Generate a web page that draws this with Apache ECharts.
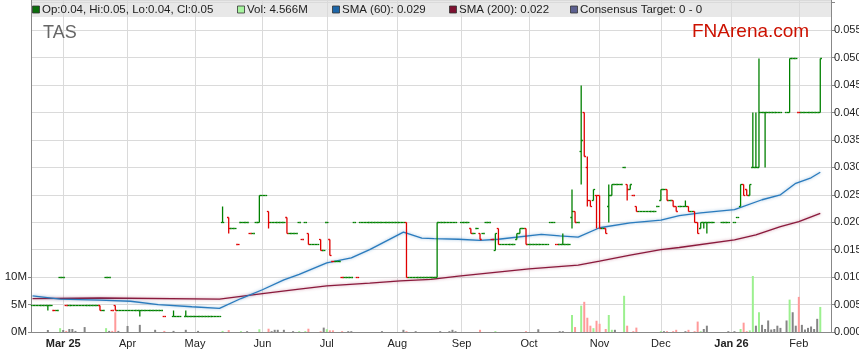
<!DOCTYPE html>
<html><head><meta charset="utf-8">
<script src="https://cdn.jsdelivr.net/npm/echarts@6/dist/echarts.min.js"></script>
<style>html,body{margin:0;padding:0;background:#fff}#c{width:859px;height:363px}</style>
</head><body><div id="c"></div>
<script>
// ---- categories (weekdays) and month tick labels ----
const firstDay = '2025-02-17', lastDay = '2026-02-16';
const monthTicks  = ['2025-03-03','2025-04-01','2025-05-01','2025-06-02','2025-07-01','2025-08-01','2025-09-01','2025-10-01','2025-11-03','2025-12-01','2026-01-01','2026-02-02'];
const monthLabels = ['Mar 25','Apr','May','Jun','Jul','Aug','Sep','Oct','Nov','Dec','Jan 26','Feb'];
const boldLabels  = ['Mar 25','Jan 26'];
const volumeTicks = [0, 5, 10];

// ---- price rows: [date, close] for flat days or [date, open, high, low, close] ----
const priceRows = [
['2025-02-17',.005],['2025-02-18',.005],['2025-02-19',.005],['2025-02-20',.005],['2025-02-21',.005],
['2025-02-24',.005,.005,.004,.005],['2025-02-25',.005],['2025-02-26',.004],['2025-02-27',.004],['2025-02-28',.010],
['2025-03-03',.010],['2025-03-04',.005],['2025-03-05',.005],['2025-03-06',.005],['2025-03-07',.005],
['2025-03-10',.005],['2025-03-11',.005],['2025-03-12',.005],['2025-03-13',.005],['2025-03-14',.005],
['2025-03-17',.005],['2025-03-18',.005],['2025-03-19',.005,.005,.004,.004],['2025-03-20',.004],['2025-03-21',.010],
['2025-03-24',.010],['2025-03-25',.004],['2025-03-26',.005,.005,.004,.004],['2025-03-27',.004],['2025-03-28',.004],
['2025-03-31',.004],['2025-04-01',.004],['2025-04-02',.004],['2025-04-03',.004],['2025-04-04',.004],
['2025-04-07',.004,.004,.003,.004],['2025-04-08',.004],['2025-04-09',.004],['2025-04-10',.004],['2025-04-11',.004],
['2025-04-14',.004],['2025-04-15',.004],['2025-04-16',.004],['2025-04-17',.003],
['2025-04-22',.003,.004,.003,.003],['2025-04-23',.003],['2025-04-24',.003],
['2025-04-28',.003,.004,.003,.003],['2025-04-29',.003],['2025-04-30',.003],['2025-05-01',.003],['2025-05-02',.003],
['2025-05-05',.003],['2025-05-06',.003],['2025-05-07',.003],['2025-05-08',.003],['2025-05-09',.003],
['2025-05-12',.003],['2025-05-13',.003],['2025-05-14',.020,.023,.020,.020],['2025-05-16',.021,.021,.018,.019],
['2025-05-19',.019],['2025-05-20',.019],['2025-05-21',.016],['2025-05-22',.020],['2025-05-23',.020],
['2025-05-26',.020],['2025-05-27',.018],['2025-05-28',.018],['2025-05-29',.020],['2025-05-30',.020,.025,.020,.025],
['2025-06-02',.025],['2025-06-03',.025],['2025-06-04',.022,.022,.019,.020],['2025-06-05',.020],['2025-06-06',.020],
['2025-06-09',.020],['2025-06-10',.020],['2025-06-11',.020],['2025-06-12',.021,.021,.018,.018],['2025-06-13',.018],
['2025-06-16',.018],['2025-06-17',.018],['2025-06-18',.020],['2025-06-19',.017],['2025-06-20',.020],
['2025-06-23',.018,.018,.016,.016],['2025-06-24',.016],['2025-06-25',.016],['2025-06-26',.016],['2025-06-27',.017,.017,.015,.015],
['2025-06-30',.015],['2025-07-01',.020],['2025-07-02',.017,.017,.014,.014],['2025-07-03',.013],['2025-07-04',.013],
['2025-07-07',.013],['2025-07-08',.010],['2025-07-09',.010],['2025-07-10',.010],['2025-07-11',.010],
['2025-07-14',.020],['2025-07-15',.010],['2025-07-16',.020],['2025-07-17',.020],['2025-07-18',.020],
['2025-07-21',.020],['2025-07-22',.020],['2025-07-23',.020],['2025-07-24',.020],['2025-07-25',.020],
['2025-07-28',.020],['2025-07-29',.020],['2025-07-30',.020],['2025-07-31',.020],['2025-08-01',.020],
['2025-08-04',.020],['2025-08-05',.020],['2025-08-06',.020,.020,.010,.010],['2025-08-07',.010],['2025-08-08',.010],
['2025-08-11',.010],['2025-08-12',.010],['2025-08-13',.010],['2025-08-14',.010],['2025-08-15',.010],
['2025-08-18',.010],['2025-08-19',.010],['2025-08-20',.010,.020,.010,.020],['2025-08-21',.020],['2025-08-22',.020],
['2025-08-25',.020],['2025-08-26',.020],['2025-08-27',.020],['2025-08-28',.020],
['2025-09-01',.020],['2025-09-02',.020],['2025-09-03',.020],['2025-09-04',.019,.019,.018,.018],['2025-09-05',.018],
['2025-09-08',.019],['2025-09-09',.018,.018,.017,.017],['2025-09-10',.018],['2025-09-11',.020],['2025-09-12',.020],
['2025-09-15',.017],['2025-09-16',.015,.018,.015,.018],['2025-09-17',.019,.019,.016,.016],['2025-09-18',.016],['2025-09-19',.016],
['2025-09-22',.016],['2025-09-23',.016],['2025-09-24',.016],['2025-09-25',.017,.018,.017,.018],['2025-09-26',.018,.019,.018,.019],
['2025-09-29',.019],['2025-09-30',.019,.019,.016,.016],['2025-10-01',.016],['2025-10-02',.016],['2025-10-03',.016],
['2025-10-06',.016],['2025-10-07',.016],['2025-10-08',.016],['2025-10-09',.016],['2025-10-10',.020],
['2025-10-13',.020],['2025-10-14',.016],['2025-10-15',.016],['2025-10-16',.016,.018,.016,.016],['2025-10-17',.016],
['2025-10-20',.016],['2025-10-21',.021,.026,.019,.022],['2025-10-22',.022,.022,.020,.020],['2025-10-23',.020],['2025-10-24',.033,.045,.027,.035],
['2025-10-27',.040,.040,.032,.032],['2025-10-28',.030,.032,.023,.024],['2025-10-29',.024,.024,.023,.023],['2025-10-30',.024,.026,.024,.026],['2025-10-31',.025,.025,.019,.025],
['2025-11-03',.025,.025,.019,.019],['2025-11-04',.019],['2025-11-05',.019,.019,.018,.018],['2025-11-06',.023,.027,.020,.025],['2025-11-07',.025,.027,.025,.027],
['2025-11-10',.027],['2025-11-11',.027],['2025-11-12',.027],['2025-11-13',.030],['2025-11-14',.027,.027,.024,.026],
['2025-11-17',.026,.027,.026,.027],['2025-11-18',.025],['2025-11-19',.023,.023,.022,.022],['2025-11-20',.022],['2025-11-21',.022],
['2025-11-24',.022],['2025-11-25',.022],['2025-11-26',.022],['2025-11-27',.022],['2025-11-28',.023],
['2025-12-01',.024,.026,.024,.026],['2025-12-02',.026],['2025-12-03',.026,.026,.024,.024],['2025-12-04',.024],['2025-12-05',.024,.024,.023,.023],
['2025-12-08',.023,.023,.022,.022],['2025-12-09',.023],['2025-12-10',.023],['2025-12-11',.023,.024,.023,.023],['2025-12-12',.023,.023,.022,.022],
['2025-12-15',.022],['2025-12-16',.022,.022,.020,.020],['2025-12-17',.020,.020,.018,.018],['2025-12-18',.019,.020,.019,.020],['2025-12-19',.020,.020,.019,.020],
['2025-12-22',.020,.020,.018,.020],['2025-12-23',.020],['2025-12-24',.020],['2025-12-29',.020],['2025-12-30',.020],['2025-12-31',.020],
['2026-01-02',.020],['2026-01-05',.021],['2026-01-06',.023,.027,.023,.027],['2026-01-07',.027,.027,.025,.025],['2026-01-08',.026,.026,.025,.025],['2026-01-09',.025,.027,.025,.027],
['2026-01-12',.030,.040,.030,.030],['2026-01-13',.030,.040,.030,.030],['2026-01-14',.030,.050,.030,.040],['2026-01-15',.040],['2026-01-16',.040,.040,.030,.040],
['2026-01-19',.040],['2026-01-20',.040],['2026-01-21',.040],['2026-01-22',.040],['2026-01-23',.040],
['2026-01-27',.040],['2026-01-28',.040,.050,.040,.050],['2026-01-29',.050],['2026-01-30',.050],
['2026-02-02',.040],['2026-02-03',.040],['2026-02-04',.040],['2026-02-05',.040],['2026-02-06',.040],
['2026-02-09',.040],['2026-02-10',.040],['2026-02-11',.040,.050,.040,.050]
];

// ---- volume (millions) ----
const volumeRows = [
['2025-02-24',0.36],['2025-02-28',0.7],['2025-03-03',0.36],['2025-03-04',0.2],['2025-03-05',0.55],['2025-03-06',0.55],['2025-03-07',0.2],['2025-03-12',0.9],
['2025-03-21',0.7],['2025-03-24',0.2],['2025-03-25',0.2],['2025-03-26',3.6],['2025-03-27',0.2],['2025-04-01',1.1],['2025-04-07',1.3],['2025-04-14',0.4],
['2025-04-17',0.2],['2025-04-22',0.2],['2025-04-28',0.4],['2025-05-02',0.2],['2025-05-14',0.2],['2025-05-16',0.35],['2025-05-22',0.15],['2025-05-26',0.15],
['2025-05-30',0.5],['2025-06-04',0.6],['2025-06-05',0.15],['2025-06-06',0.4],['2025-06-09',0.4],['2025-06-11',0.4],['2025-06-16',0.15],['2025-06-18',0.15],['2025-06-20',0.15],
['2025-06-23',0.6],['2025-06-27',0.15],['2025-06-30',0.8],['2025-07-01',0.5],['2025-07-02',0.3],['2025-07-03',0.3],['2025-07-08',0.15],['2025-07-10',0.15],['2025-07-11',0.15],
['2025-07-25',0.15],['2025-08-05',0.4],['2025-08-06',0.15],['2025-08-11',0.15],['2025-08-21',0.15],['2025-08-26',0.15],['2025-08-27',0.4],['2025-08-28',0.15],
['2025-09-09',0.4],['2025-09-16',0.15],['2025-09-30',0.15],['2025-10-06',0.5],['2025-10-15',0.15],['2025-10-16',0.15],
['2025-10-21',3.1],['2025-10-22',0.9],['2025-10-24',4.8],['2025-10-27',5.5],['2025-10-28',2.6],['2025-10-29',1.15],['2025-10-30',0.7],['2025-10-31',2.05],
['2025-11-03',1.5],['2025-11-05',0.55],['2025-11-06',3.1],['2025-11-07',0.4],['2025-11-10',0.4],['2025-11-13',6.6],['2025-11-14',1.15],['2025-11-18',0.15],['2025-11-19',0.8],
['2025-12-01',0.15],['2025-12-02',0.15],['2025-12-03',0.15],['2025-12-05',0.15],['2025-12-08',0.4],['2025-12-11',0.15],['2025-12-12',0.4],['2025-12-16',0.15],['2025-12-17',1.9],
['2025-12-18',0.15],['2025-12-19',0.55],['2025-12-22',1.15],['2025-12-31',0.15],['2026-01-02',0.15],
['2026-01-06',0.55],['2026-01-07',1.7],['2026-01-08',0.15],['2026-01-09',0.3],['2026-01-12',10.2],['2026-01-13',1.15],['2026-01-14',3.6],['2026-01-15',1.3],['2026-01-16',0.55],
['2026-01-19',2.1],['2026-01-20',0.45],['2026-01-21',0.55],['2026-01-22',1.15],['2026-01-23',0.75],['2026-01-27',2.1],['2026-01-28',5.9],['2026-01-29',3.6],['2026-01-30',1.15],
['2026-02-02',6.4],['2026-02-03',1.3],['2026-02-04',0.45],['2026-02-05',0.75],['2026-02-06',1.0],['2026-02-09',0.55],['2026-02-10',2.4],['2026-02-11',4.566]
];

// ---- moving averages (sampled) ----
const sma60 = [
['2025-02-17',.0066],['2025-02-28',.0060],['2025-03-19',.0058],['2025-04-02',.0056],['2025-04-15',.0050],['2025-04-30',.0046],['2025-05-13',.0043],
['2025-05-22',.0061],['2025-06-02',.0077],['2025-06-11',.0095],['2025-06-18',.0105],['2025-07-01',.0126],['2025-07-11',.0135],['2025-07-21',.0150],
['2025-08-05',.0182],['2025-08-13',.0171],['2025-08-19',.0170],['2025-08-29',.0169],['2025-09-09',.0167],['2025-09-17',.0169],['2025-10-07',.0178],
['2025-10-15',.0175],['2025-10-23',.0173],['2025-11-03',.0190],['2025-11-17',.0199],['2025-12-01',.0204],['2025-12-09',.0212],['2025-12-18',.0217],
['2026-01-02',.0223],['2026-01-15',.0241],['2026-01-23',.0250],['2026-01-30',.0271],['2026-02-06',.0281],['2026-02-11',.0291]
];
const sma200 = [
['2025-02-17',.0061],['2025-03-19',.0062],['2025-05-13',.0060],['2025-06-02',.0070],['2025-06-18',.0078],['2025-07-01',.0084],['2025-07-21',.0089],
['2025-08-04',.0093],['2025-08-18',.0096],['2025-08-29',.0102],['2025-10-01',.0115],['2025-10-23',.0122],['2025-11-03',.0129],['2025-11-17',.0140],
['2025-12-01',.0150],['2025-12-09',.0154],['2026-01-02',.0168],['2026-01-13',.0177],['2026-01-23',.0192],['2026-02-02',.0201],['2026-02-11',.0216]
];

const legendItems = [
  ['#0a6e0a','Op:0.04, Hi:0.05, Lo:0.04, Cl:0.05', 42],
  ['#a8f5a0','Vol: 4.566M', 247],
  ['#1d66a8','SMA (60): 0.029', 342],
  ['#7d1030','SMA (200): 0.022', 459],
  ['#5c6090','Consensus Target: 0 - 0', 580]
];

// ---- build ----
function weekdays(a, b) {
  const out = []; let d = new Date(a + 'T00:00:00Z'); const end = new Date(b + 'T00:00:00Z');
  while (d <= end) { const w = d.getUTCDay(); if (w > 0 && w < 6) out.push(d.toISOString().slice(0, 10)); d = new Date(d.getTime() + 86400000); }
  return out;
}
const days = weekdays(firstDay, lastDay);
const tickSet = new Set(monthTicks);
const tickFn = (i, v) => tickSet.has(v);

const UP = '#008000', DOWN = '#e00000';
const VUP = '#9cf08f', VDOWN = '#ff9a9a', VFLAT = '#858585';
const ohlc = []; const info = {};
let prevC = null;
priceRows.forEach(r => {
  const [d, o, h, l, c] = r.length === 2 ? [r[0], r[1], r[1], r[1], r[1]] : r;
  let dir;
  if (c > o) dir = 1; else if (c < o) dir = -1;
  else if (prevC !== null && c < prevC) dir = -1; else dir = 1;
  let vdir = 0;
  if (prevC !== null && c > prevC) vdir = 1; else if (prevC !== null && c < prevC) vdir = -1;
  else if (c > o) vdir = 1; else if (c < o) vdir = -1;
  info[d] = vdir;
  ohlc.push([d, o, h, l, c, dir]);
  prevC = c;
});
const volData = volumeRows.map(([d, v]) => ({
  value: [d, v],
  itemStyle: { color: info[d] === 1 ? VUP : info[d] === -1 ? VDOWN : VFLAT }
}));

function renderOhlc(params, api) {
  const i = api.value(0);
  const o = api.value(1), h = api.value(2), l = api.value(3), c = api.value(4);
  const col = api.value(5) > 0 ? UP : DOWN;
  const half = api.size([1, 0])[0] / 2 + 0.15;
  const pO = api.coord([i, o]), pC = api.coord([i, c]), pH = api.coord([i, h]), pL = api.coord([i, l]);
  const x = pO[0];
  const st = { stroke: col, lineWidth: 1.3 };
  const yo = Math.round(pO[1]) + 0.5, yc = Math.round(pC[1]) + 0.5;
  const ch = [
    { type: 'line', shape: { x1: x - half, y1: yo, x2: x, y2: yo }, style: st },
    { type: 'line', shape: { x1: x, y1: yc, x2: x + half, y2: yc }, style: st }
  ];
  if (h !== l) ch.push({ type: 'line', shape: { x1: x, y1: Math.round(pH[1]) + 0.5, x2: x, y2: Math.round(pL[1]) + 0.5 }, style: st });
  return { type: 'group', children: ch };
}

const FONT = '"Liberation Sans", Arial, sans-serif';
const graphics = [
  { type: 'rect', z: -5, shape: { x: 31, y: 0, width: 800, height: 17 }, style: { fill: '#e8e8e8' } },
  { type: 'text', z: 100, x: 43, y: 33, style: { text: 'TAS', font: '18px ' + FONT, fill: '#666', verticalAlign: 'middle' } },
  { type: 'text', z: 100, x: 692, y: 32, style: { text: 'FNArena.com', font: '19px ' + FONT, fill: '#cc1100', verticalAlign: 'middle' } }
];
legendItems.forEach(([col, txt, x]) => {
  graphics.push({ type: 'rect', z: 100, shape: { x: x - 9.5, y: 6, width: 7, height: 7 }, style: { fill: col, stroke: '#333', lineWidth: 0.8 } });
  graphics.push({ type: 'text', z: 100, x: x, y: 10, style: { text: txt, font: '11.5px ' + FONT, fill: '#222', verticalAlign: 'middle' } });
});

const chart = echarts.init(document.getElementById('c'), null, { renderer: 'canvas' });
chart.setOption({
  animation: false,
  backgroundColor: '#fff',
  grid: { left: 31, right: 28, top: 0, bottom: 31, outerBoundsMode: 'none', containLabel: false },
  xAxis: {
    type: 'category', data: days, boundaryGap: true,
    axisLine: { lineStyle: { color: '#888' } },
    axisTick: { interval: tickFn, alignWithLabel: true, length: 4, lineStyle: { color: '#888' } },
    axisLabel: {
      interval: tickFn, margin: 6, color: '#222', fontSize: 11, fontFamily: FONT,
      formatter: v => { const t = monthLabels[monthTicks.indexOf(v)]; return boldLabels.includes(t) ? '{b|' + t + '}' : t; },
      rich: { b: { fontWeight: 'bold', fontSize: 11, fontFamily: FONT, color: '#222' } }
    },
    splitLine: { show: true, interval: tickFn, alignWithLabel: true, lineStyle: { color: '#dadada' } }
  },
  yAxis: [
    {
      type: 'value', position: 'left', min: 0, max: 60.5, interval: 5,
      axisLine: { show: true, lineStyle: { color: '#888' } },
      axisTick: { show: true, length: 3, customValues: volumeTicks, lineStyle: { color: '#888' } },
      axisLabel: { margin: 4, color: '#222', fontSize: 11.5, fontFamily: FONT, customValues: volumeTicks,
        formatter: v => Math.round(v) + 'M' },
      splitLine: { show: false }
    },
    {
      type: 'value', position: 'right', min: 0, max: 0.0605, interval: 0.005,
      axisLine: { show: true, lineStyle: { color: '#888' } },
      axisTick: { show: true, length: 4, lineStyle: { color: '#888' } },
      axisLabel: { margin: 3, color: '#222', fontSize: 11, fontFamily: FONT, showMaxLabel: false,
        overflow: 'none', width: 80,
        formatter: v => (v > 0.0576 ? '' : v.toFixed(3)) },
      splitLine: { show: true, lineStyle: { color: '#dadada' } }
    }
  ],
  graphic: graphics,
  series: [
    { type: 'bar', xAxisIndex: 0, yAxisIndex: 0, barWidth: 2, data: volData, z: 1, silent: true },
    { type: 'line', yAxisIndex: 1, data: sma200, showSymbol: false, z: 3, silent: true,
      lineStyle: { color: '#8a1a3c', width: 1.3, shadowColor: 'rgba(160,40,80,0.5)', shadowBlur: 3 } },
    { type: 'line', yAxisIndex: 1, data: sma60, showSymbol: false, z: 3, silent: true,
      lineStyle: { color: '#2a7bbd', width: 1.3, shadowColor: 'rgba(40,120,190,0.5)', shadowBlur: 3 } },
    { type: 'custom', yAxisIndex: 1, renderItem: renderOhlc, z: 4, silent: true,
      dimensions: ['date', 'open', 'high', 'low', 'close', 'dir'],
      encode: { x: 'date', y: ['open', 'high', 'low', 'close'] },
      data: ohlc }
  ]
});
</script>
</body></html>
